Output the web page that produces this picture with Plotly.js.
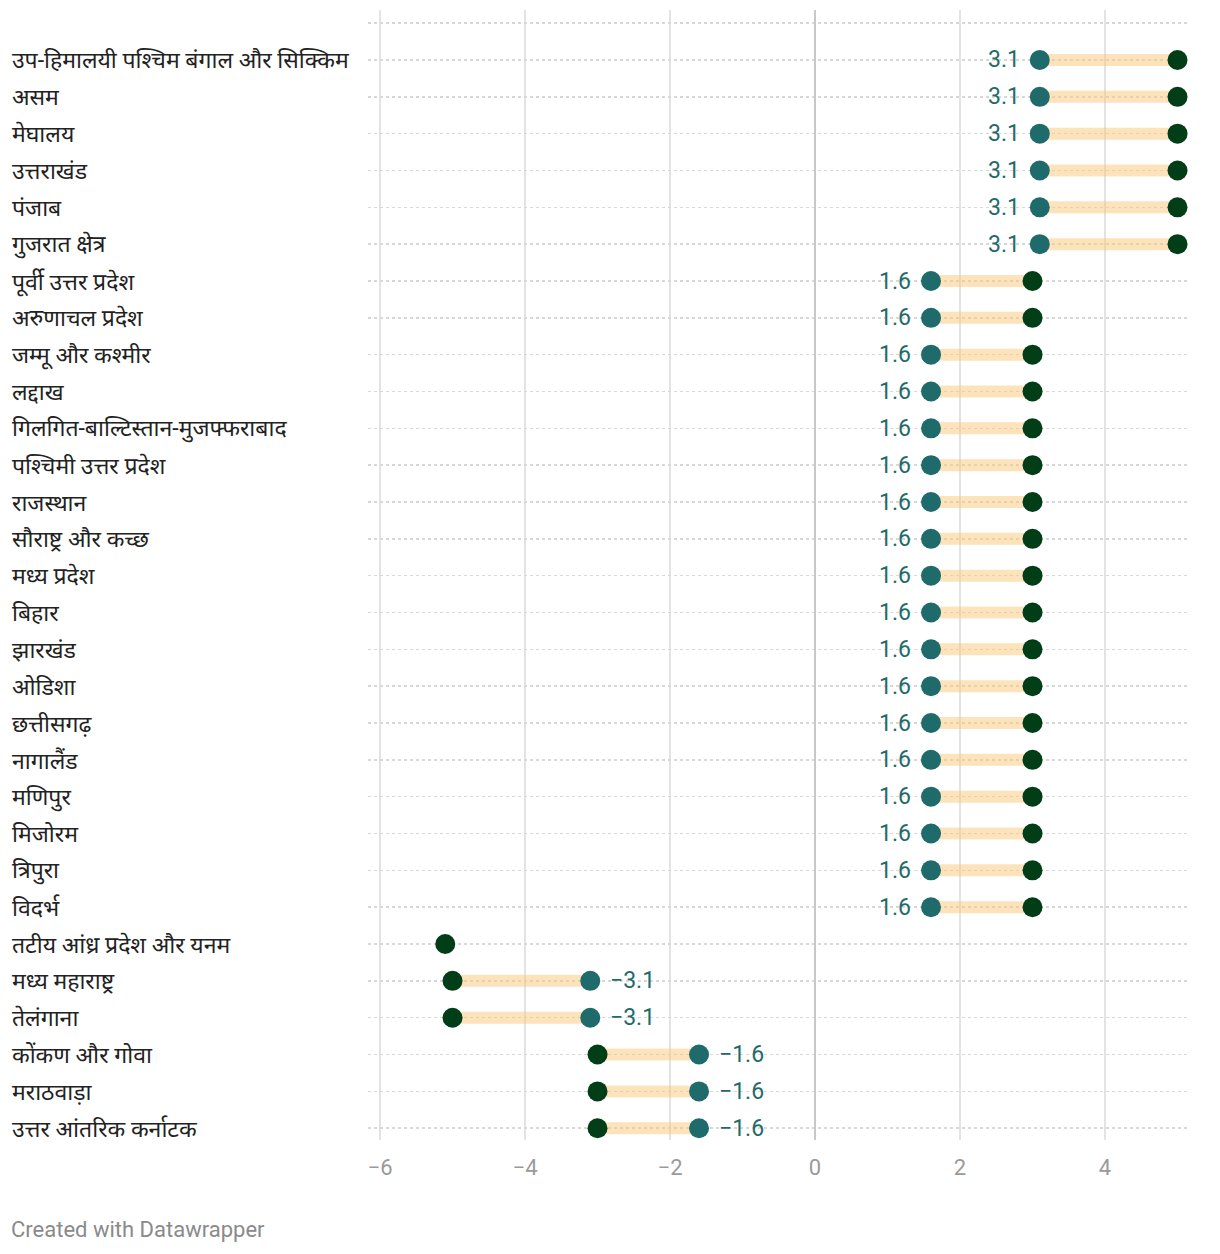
<!DOCTYPE html>
<html>
<head>
<meta charset="utf-8">
<script src="https://cdn.plot.ly/plotly-3.0.1.min.js"></script>
<style>
  html, body { margin: 0; padding: 0; background: #fff; }
  #chart { width: 1220px; height: 1254px; }
</style>
</head>
<body>
<div id="chart"></div>
<script>
const regions = [
  "उप-हिमालयी पश्चिम बंगाल और सिक्किम",
  "असम",
  "मेघालय",
  "उत्तराखंड",
  "पंजाब",
  "गुजरात क्षेत्र",
  "पूर्वी उत्तर प्रदेश",
  "अरुणाचल प्रदेश",
  "जम्मू और कश्मीर",
  "लद्दाख",
  "गिलगित-बाल्टिस्तान-मुजफ्फराबाद",
  "पश्चिमी उत्तर प्रदेश",
  "राजस्थान",
  "सौराष्ट्र और कच्छ",
  "मध्य प्रदेश",
  "बिहार",
  "झारखंड",
  "ओडिशा",
  "छत्तीसगढ़",
  "नागालैंड",
  "मणिपुर",
  "मिजोरम",
  "त्रिपुरा",
  "विदर्भ",
  "तटीय आंध्र प्रदेश और यनम",
  "मध्य महाराष्ट्र",
  "तेलंगाना",
  "कोंकण और गोवा",
  "मराठवाड़ा",
  "उत्तर आंतरिक कर्नाटक"
];
// teal dots (labelled values)
const tealValues = [
  3.1, 3.1, 3.1, 3.1, 3.1, 3.1,
  1.6, 1.6, 1.6, 1.6, 1.6, 1.6, 1.6, 1.6, 1.6, 1.6, 1.6, 1.6, 1.6, 1.6, 1.6, 1.6, 1.6, 1.6,
  null,
  -3.1, -3.1,
  -1.6, -1.6, -1.6
];
// dark green dots
const darkValues = [
  5.0, 5.0, 5.0, 5.0, 5.0, 5.0,
  3.0, 3.0, 3.0, 3.0, 3.0, 3.0, 3.0, 3.0, 3.0, 3.0, 3.0, 3.0, 3.0, 3.0, 3.0, 3.0, 3.0, 3.0,
  -5.1,
  -5.0, -5.0,
  -3.0, -3.0, -3.0
];
const xTicks = [-6, -4, -2, 0, 2, 4];

const TEAL = "#1f6b6b";
const DARK = "#013d17";
const BAR = "rgba(252,200,120,0.5)";
const FONT = "Roboto, 'Noto Sans', sans-serif";

const rowIdx = regions.map((_, i) => i);

// range bars
const barX = [], barY = [];
regions.forEach((r, i) => {
  if (tealValues[i] !== null && darkValues[i] !== null) {
    barX.push(tealValues[i], darkValues[i], null);
    barY.push(i, i, null);
  }
});

const traces = [
  {
    type: "scatter", mode: "lines", x: barX, y: barY,
    line: { color: BAR, width: 12 }, hoverinfo: "skip", showlegend: false
  },
  {
    type: "scatter", mode: "markers", x: darkValues, y: rowIdx,
    marker: { color: DARK, size: 20 }, showlegend: false
  },
  {
    type: "scatter", mode: "markers", x: tealValues, y: rowIdx,
    marker: { color: TEAL, size: 20 }, showlegend: false
  }
];

const fmt = v => (v < 0 ? "\u2212" + Math.abs(v).toFixed(1) : v.toFixed(1));

const annotations = [];
regions.forEach((r, i) => {
  annotations.push({
    xref: "paper", yref: "y", x: -0.4355, y: i,
    text: r, showarrow: false, xanchor: "left", yanchor: "middle",
    font: { family: FONT, size: 23, color: "#222" }, yshift: -1
  });
  const v = tealValues[i];
  if (v !== null) {
    annotations.push({
      xref: "x", yref: "y", x: v, y: i, text: fmt(v), showarrow: false,
      xanchor: v < 0 ? "left" : "right", yanchor: "middle",
      xshift: v < 0 ? 18 : -18,
      font: { family: FONT, size: 23, color: TEAL }
    });
  }
});
annotations.push({
  xref: "paper", yref: "paper", x: -0.4368, y: -0.0796,
  text: "Created with Datawrapper", showarrow: false,
  xanchor: "left", yanchor: "middle",
  font: { family: FONT, size: 22, color: "#8a8a8a" }
});

const layout = {
  width: 1220, height: 1254,
  margin: { l: 368, r: 30, t: 10, b: 114 },
  paper_bgcolor: "#fff", plot_bgcolor: "#fff",
  font: { family: FONT },
  xaxis: {
    range: [-6.166, 5.172],
    tickvals: xTicks,
    ticktext: xTicks.map(t => (t < 0 ? "\u2212" + Math.abs(t) : String(t))),
    showgrid: true, gridcolor: "#e3e3e3", gridwidth: 2,
    zeroline: true, zerolinecolor: "#c8c8c8", zerolinewidth: 2,
    showline: false, ticks: "",
    tickfont: { family: FONT, size: 22, color: "#9a9a9a" },
    ticklabelstandoff: 12, fixedrange: true
  },
  yaxis: {
    range: [29.32, -1.357],
    tickvals: [-1].concat(rowIdx),
    showticklabels: false,
    showgrid: true, gridcolor: "#d8d8d8", gridwidth: 1.5, griddash: "dot",
    zeroline: false, showline: false, ticks: "", fixedrange: true
  },
  annotations: annotations,
  showlegend: false
};

Plotly.newPlot("chart", traces, layout, { displayModeBar: false, staticPlot: true });
</script>
</body>
</html>
